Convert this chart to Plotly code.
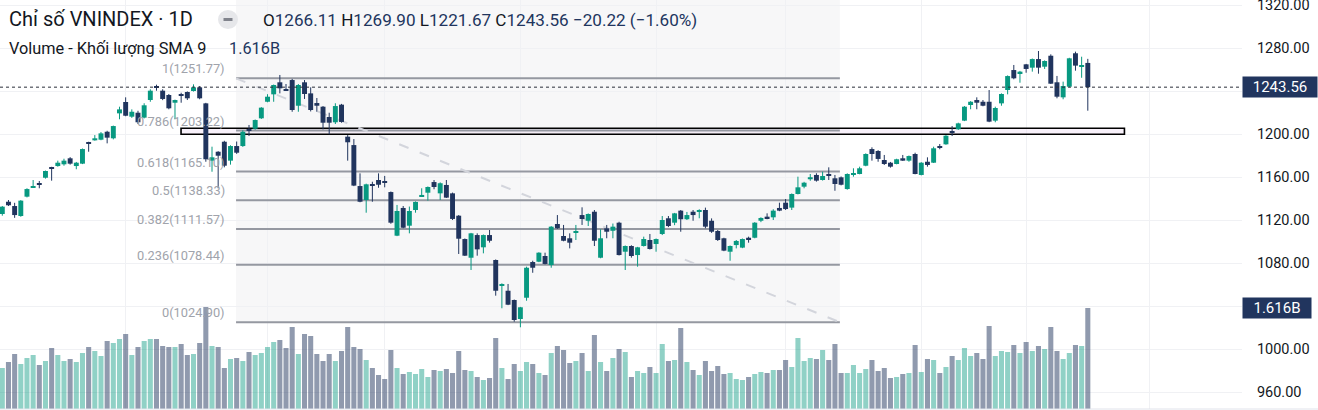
import plotly.graph_objects as go

# ---------------- data ----------------
opens = [1125.6, 1137.0, 1133.0, 1123.7, 1141.7, 1150.4, 1154.0, 1159.3, 1169.0, 1170.2,
         1171.8, 1177.4, 1170.2, 1172.4, 1191.3, 1194.1, 1194.7, 1202.1, 1196.0, 1219.2,
         1229.8, 1216.1, 1219.8, 1215.2, 1231.6, 1243.7, 1240.3, 1236.3, 1229.1, 1237.2,
         1239.1, 1240.0, 1243.4, 1228.5, 1175.2, 1183.5, 1192.8, 1175.2, 1188.8, 1188.8,
         1204.3, 1204.9, 1214.6, 1230.0, 1236.9, 1248.1, 1241.8, 1250.2, 1226.3, 1248.1,
         1237.8, 1228.8, 1225.4, 1215.8, 1210.9, 1227.3, 1197.5, 1189.7, 1151.6, 1138.6,
         1153.5, 1157.2, 1155.3, 1146.0, 1105.4, 1131.2, 1114.7, 1129.3, 1142.3, 1145.4,
         1155.3, 1144.8, 1152.6, 1144.8, 1124.0, 1102.3, 1084.9, 1106.0, 1094.6, 1106.0,
         1082.8, 1058.6, 1054.2, 1045.6, 1027.9, 1047.7, 1080.9, 1081.2, 1086.5, 1078.1,
         1116.3, 1105.1, 1103.0, 1108.8, 1124.6, 1119.3, 1127.7, 1084.9, 1112.3, 1110.0,
         1117.5, 1090.5, 1095.8, 1087.4, 1095.8, 1101.4, 1097.7, 1107.0, 1121.6, 1117.5,
         1128.7, 1120.7, 1127.7, 1127.5, 1129.3, 1119.3, 1109.8, 1103.0, 1090.5, 1096.7,
         1094.3, 1103.5, 1103.5, 1119.3, 1123.1, 1122.5, 1131.2, 1136.1, 1131.5, 1144.2,
         1151.0, 1157.9, 1161.9, 1157.2, 1162.1, 1158.8, 1159.7, 1148.8, 1161.9, 1162.8,
         1170.5, 1186.0, 1184.2, 1175.8, 1173.3, 1172.1, 1177.4, 1175.2, 1181.4, 1161.9,
         1174.2, 1173.3, 1188.8, 1190.4, 1202.7, 1204.4, 1212.4, 1227.0, 1231.6, 1230.0,
         1230.0, 1212.4, 1228.5, 1240.9, 1259.5, 1256.5, 1264.8, 1261.7, 1269.7, 1262.6,
         1272.8, 1248.1, 1234.1, 1244.0, 1275.1, 1263.0, 1266.11]
highs = [1133.0, 1138.6, 1136.0, 1138.5, 1149.5, 1157.2, 1156.3, 1166.0, 1169.5, 1175.2,
         1177.0, 1178.5, 1174.0, 1186.5, 1192.8, 1199.0, 1201.8, 1203.0, 1207.8, 1225.4,
         1234.1, 1222.9, 1221.6, 1228.6, 1241.6, 1245.9, 1241.6, 1237.2, 1232.0, 1238.4,
         1239.6, 1246.2, 1244.6, 1229.0, 1188.2, 1184.0, 1193.7, 1189.5, 1193.0, 1203.5,
         1208.4, 1213.5, 1225.0, 1237.0, 1246.0, 1254.9, 1246.5, 1251.2, 1246.5, 1250.2,
         1243.4, 1233.5, 1226.0, 1219.8, 1228.6, 1228.0, 1199.0, 1195.3, 1163.4, 1153.8,
         1155.6, 1163.4, 1161.0, 1146.5, 1134.0, 1133.0, 1132.5, 1137.3, 1149.5, 1151.2,
         1157.2, 1155.0, 1157.2, 1145.5, 1124.6, 1102.8, 1108.0, 1107.6, 1106.5, 1110.7,
         1083.3, 1061.1, 1060.5, 1046.0, 1039.2, 1076.6, 1082.1, 1090.0, 1089.6, 1114.3,
         1124.6, 1115.4, 1107.6, 1115.4, 1131.8, 1126.1, 1129.3, 1111.3, 1115.4, 1116.7,
         1118.4, 1096.3, 1096.5, 1095.0, 1104.5, 1107.0, 1102.8, 1123.7, 1123.7, 1126.6,
         1129.3, 1127.5, 1129.3, 1130.0, 1131.5, 1121.5, 1110.7, 1103.5, 1096.3, 1101.4,
         1102.8, 1104.5, 1118.0, 1122.5, 1126.2, 1130.0, 1136.1, 1139.5, 1144.7, 1160.3,
         1155.5, 1162.8, 1163.5, 1165.0, 1169.0, 1161.9, 1160.5, 1163.4, 1168.1, 1169.6,
         1182.0, 1187.6, 1185.0, 1180.5, 1174.0, 1177.0, 1180.5, 1180.0, 1182.6, 1173.8,
         1178.3, 1188.2, 1190.7, 1199.0, 1207.4, 1210.5, 1226.0, 1230.6, 1234.1, 1231.6,
         1240.9, 1225.4, 1237.8, 1254.5, 1264.2, 1258.7, 1265.2, 1270.2, 1277.2, 1268.5,
         1274.1, 1254.0, 1248.7, 1270.9, 1276.6, 1271.9, 1269.90]
lows = [1124.0, 1133.0, 1122.0, 1123.0, 1141.0, 1150.0, 1149.5, 1158.5, 1156.6, 1169.6,
        1170.5, 1171.5, 1167.2, 1172.0, 1183.5, 1193.8, 1194.2, 1191.3, 1195.0, 1213.7,
        1216.5, 1215.0, 1209.3, 1214.5, 1230.0, 1240.3, 1231.5, 1223.0, 1213.7, 1229.1,
        1231.6, 1239.5, 1232.3, 1174.2, 1164.9, 1149.5, 1169.0, 1171.5, 1181.5, 1188.0,
        1198.1, 1204.0, 1214.0, 1229.5, 1230.0, 1237.8, 1240.0, 1220.7, 1220.7, 1232.6,
        1221.0, 1220.7, 1204.3, 1199.7, 1209.3, 1210.5, 1175.2, 1151.5, 1136.5, 1126.8,
        1137.0, 1150.0, 1150.4, 1116.5, 1105.0, 1112.3, 1107.6, 1126.8, 1141.7, 1138.0,
        1148.6, 1138.6, 1140.5, 1120.0, 1088.4, 1086.5, 1073.5, 1086.8, 1089.0, 1099.0,
        1049.6, 1037.9, 1040.8, 1025.4, 1020.2, 1044.9, 1070.9, 1080.8, 1078.7, 1075.6,
        1111.8, 1100.2, 1093.6, 1101.4, 1115.4, 1114.4, 1095.8, 1084.4, 1103.0, 1103.0,
        1087.0, 1073.5, 1085.0, 1076.6, 1095.3, 1092.5, 1090.5, 1106.0, 1113.4, 1115.2,
        1109.1, 1120.0, 1119.3, 1121.6, 1112.3, 1108.0, 1100.5, 1091.0, 1082.1, 1093.6,
        1093.8, 1098.9, 1103.0, 1118.0, 1120.7, 1120.0, 1128.2, 1129.3, 1129.3, 1143.8,
        1149.5, 1156.5, 1155.7, 1156.7, 1157.2, 1147.2, 1152.2, 1148.2, 1160.3, 1162.5,
        1170.0, 1175.2, 1174.2, 1171.2, 1168.7, 1171.8, 1175.0, 1174.2, 1162.5, 1161.5,
        1169.6, 1173.0, 1185.8, 1190.0, 1198.1, 1203.8, 1212.0, 1223.0, 1223.0, 1225.8,
        1211.0, 1210.9, 1226.3, 1236.9, 1250.9, 1247.7, 1257.0, 1258.0, 1256.1, 1260.5,
        1246.5, 1233.2, 1232.3, 1243.5, 1258.9, 1252.3, 1221.67]
closes = [1132.4, 1133.7, 1124.6, 1138.0, 1148.8, 1151.6, 1153.0, 1165.6, 1167.7, 1173.3,
          1175.2, 1172.4, 1173.3, 1186.0, 1190.7, 1196.0, 1200.6, 1196.6, 1207.4, 1222.9,
          1217.0, 1220.7, 1210.9, 1226.7, 1240.3, 1242.8, 1232.6, 1223.9, 1231.6, 1236.0,
          1233.2, 1243.4, 1233.2, 1176.5, 1178.3, 1179.8, 1170.5, 1188.8, 1182.6, 1202.1,
          1203.0, 1213.0, 1224.5, 1234.7, 1245.6, 1242.5, 1240.6, 1222.3, 1245.6, 1237.2,
          1222.3, 1226.3, 1210.5, 1210.5, 1226.0, 1211.2, 1192.3, 1152.0, 1137.0, 1153.2,
          1152.0, 1152.8, 1154.7, 1117.5, 1128.4, 1112.8, 1128.4, 1136.8, 1143.2, 1150.7,
          1150.7, 1154.2, 1140.8, 1121.0, 1102.6, 1086.8, 1107.6, 1092.7, 1106.0, 1100.7,
          1054.2, 1060.5, 1041.2, 1027.0, 1038.8, 1075.6, 1075.6, 1089.6, 1079.1, 1113.8,
          1112.3, 1100.7, 1098.9, 1109.8, 1120.9, 1125.6, 1100.7, 1103.0, 1109.1, 1113.8,
          1087.4, 1095.8, 1086.5, 1094.6, 1102.3, 1093.0, 1102.3, 1120.0, 1114.4, 1126.2,
          1120.7, 1124.6, 1124.6, 1128.4, 1113.8, 1109.1, 1101.4, 1091.5, 1095.8, 1100.5,
          1102.3, 1102.3, 1117.5, 1121.9, 1121.6, 1128.7, 1128.7, 1130.2, 1144.2, 1150.4,
          1154.7, 1159.8, 1156.6, 1160.9, 1161.2, 1153.5, 1152.8, 1162.8, 1162.8, 1168.1,
          1181.4, 1181.4, 1176.8, 1172.1, 1169.6, 1176.5, 1175.2, 1179.5, 1162.8, 1173.3,
          1171.2, 1186.7, 1187.3, 1198.4, 1201.6, 1209.9, 1225.4, 1230.0, 1229.1, 1226.3,
          1211.5, 1224.2, 1237.2, 1253.9, 1251.8, 1258.0, 1260.5, 1269.7, 1261.7, 1267.9,
          1246.8, 1234.7, 1244.6, 1270.4, 1263.6, 1263.6, 1243.56]
# volume in billions of shares
volumes = [0.656, 0.752, 0.880, 0.720, 0.816, 0.864, 0.704, 0.768, 0.976, 0.864,
           0.768, 0.800, 0.752, 0.896, 0.992, 0.928, 0.848, 1.088, 1.056, 1.120,
           1.200, 0.864, 0.992, 1.088, 1.120, 1.120, 1.008, 0.992, 0.992, 1.040,
           0.864, 0.880, 1.056, 1.632, 1.008, 0.992, 0.656, 0.800, 0.816, 0.768,
           0.912, 0.864, 0.896, 0.992, 1.072, 1.104, 0.976, 1.312, 0.880, 1.200,
           1.168, 0.880, 0.768, 0.880, 0.768, 0.928, 1.312, 0.992, 0.960, 0.784,
           0.656, 0.544, 0.480, 0.944, 0.656, 0.560, 0.592, 0.560, 0.640, 0.512,
           0.624, 0.608, 0.640, 0.576, 0.928, 0.624, 0.608, 0.512, 0.464, 0.496,
           1.136, 0.656, 0.480, 0.720, 0.608, 0.752, 0.720, 0.576, 0.544, 0.896,
           1.008, 0.944, 0.736, 0.768, 0.896, 0.608, 1.184, 0.752, 0.608, 0.816,
           0.960, 0.912, 0.512, 0.608, 0.576, 0.672, 0.576, 1.040, 0.768, 0.784,
           1.296, 0.752, 0.624, 0.544, 0.768, 0.608, 0.688, 0.560, 0.576, 0.480,
           0.464, 0.512, 0.560, 0.592, 0.576, 0.624, 0.624, 0.784, 0.672, 1.136,
           0.768, 0.816, 0.800, 0.944, 0.784, 1.040, 0.576, 0.576, 0.704, 0.576,
           0.640, 0.784, 0.608, 0.656, 0.496, 0.512, 0.560, 0.576, 1.024, 0.592,
           0.800, 0.784, 0.576, 0.672, 0.848, 0.784, 0.976, 0.848, 0.896, 0.800,
           1.328, 0.848, 0.928, 0.912, 1.024, 0.896, 1.072, 0.928, 1.008, 0.960,
           1.312, 0.928, 0.800, 0.896, 1.024, 1.008, 1.616]

fib_ratios = ["1", "0.786", "0.618", "0.5", "0.382", "0.236", "0"]
fib_prices = [1251.77, 1203.22, 1165.10, 1138.33, 1111.57, 1078.44, 1024.90]
price_ticks = [960, 1000, 1040, 1080, 1120, 1160, 1200, 1240, 1280, 1320]
hidden_tick_labels = [1040, 1240]   # covered by the price / volume badges
month_starts = [20, 43, 62, 84, 106, 127, 149, 166, 186]
last_open, last_high, last_low, last_close = 1266.11, 1269.90, 1221.67, 1243.56
change, change_pct = -20.22, -1.60
last_volume_label = "1.616B"

# ---------------- styling ----------------
UP = "#089981"
DOWN = "#21355e"
UP_VOL = "rgba(8,153,129,0.45)"
DOWN_VOL = "rgba(33,53,94,0.5)"
TEXT = "#131722"
GRID = "#f0f1f4"
FONT = "Roboto, 'Open Sans', sans-serif"

W, H = 1318, 410
PLOT_W = 1242
PLOT_H = 409
X_RANGE = [-0.373, 201.0]
Y_RANGE = [944.19, 1324.65]

n = len(closes)
idx = list(range(n))
is_up = [c >= o for o, c in zip(opens, closes)]

fig = go.Figure()

# volume (overlay axis)
fig.add_trace(go.Bar(
    x=idx, y=volumes, yaxis="y2", width=0.82,
    marker=dict(color=[UP_VOL if u else DOWN_VOL for u in is_up], line_width=0),
    hoverinfo="skip", showlegend=False))

# wicks
for flag, col in ((True, UP), (False, DOWN)):
    wx, wy = [], []
    for i in idx:
        if is_up[i] == flag:
            wx += [i, i, None]
            wy += [lows[i], highs[i], None]
    fig.add_trace(go.Scatter(x=wx, y=wy, mode="lines", line=dict(color=col, width=1),
                             hoverinfo="skip", showlegend=False))

# bodies
bases = [min(o, c) for o, c in zip(opens, closes)]
heights = [max(abs(c - o), 1.0) for o, c in zip(opens, closes)]
fig.add_trace(go.Bar(
    x=idx, y=heights, base=bases, width=0.8,
    marker=dict(color=[UP if u else DOWN for u in is_up], line_width=0),
    hoverinfo="skip", showlegend=False))

shapes = []
fib_x0, fib_x1 = 37.9, 135.8
# fib background
shapes.append(dict(type="rect", xref="x", yref="y", x0=fib_x0, x1=fib_x1,
                   y0=fib_prices[-1], y1=Y_RANGE[1], fillcolor="#f7f7f8",
                   line_width=0, layer="below"))
# white backdrop behind the volume legend row
shapes.append(dict(type="rect", xref="paper", yref="paper",
                   x0=0, x1=287 / PLOT_W, y0=1 - 62 / PLOT_H, y1=1 - 37 / PLOT_H,
                   fillcolor="#ffffff", line_width=0, layer="below"))
# horizontal zone rectangle
shapes.append(dict(type="rect", xref="x", yref="y", x0=28.98, x1=181.94,
                   y0=1199.7, y1=1205.3, fillcolor="rgba(236,215,240,0.35)",
                   line=dict(color="#000000", width=1.6), layer="between"))
# fib level lines
for p in fib_prices:
    shapes.append(dict(type="line", xref="x", yref="y", x0=fib_x0, x1=fib_x1, y0=p, y1=p,
                       line=dict(color="#9598a1", width=2), layer="between"))
# fib trend line (dashed)
shapes.append(dict(type="line", xref="x", yref="y", x0=fib_x0, x1=fib_x1,
                   y0=fib_prices[0], y1=fib_prices[-1],
                   line=dict(color="#d3d5dc", width=2, dash="10px,12px"), layer="between"))
# last price dotted line
shapes.append(dict(type="line", xref="paper", yref="y", x0=0, x1=1, y0=last_close, y1=last_close,
                   line=dict(color="#2a2e39", width=1, dash="dot"), layer="above"))
# bottom border
shapes.append(dict(type="line", xref="paper", yref="paper", x0=0, x1=W / PLOT_W, y0=0, y1=0,
                   line=dict(color="#e0e3eb", width=1), layer="above"))
# legend icon (circle with minus)
shapes.append(dict(type="circle", xref="paper", yref="paper",
                   x0=218 / PLOT_W, x1=238 / PLOT_W, y0=1 - 29 / PLOT_H, y1=1 - 10 / PLOT_H,
                   fillcolor="#e6e7ea", line_width=0, layer="above"))
shapes.append(dict(type="rect", xref="paper", yref="paper",
                   x0=223.5 / PLOT_W, x1=232.5 / PLOT_W, y0=1 - 21 / PLOT_H, y1=1 - 18 / PLOT_H,
                   fillcolor="#80838c", line_width=0, layer="above"))

annotations = []
def px_ann(text, x, y, size, color, xanchor="left", **kw):
    annotations.append(dict(text=text, xref="paper", yref="paper", x=x / PLOT_W, y=1 - y / PLOT_H,
                            xanchor=xanchor, yanchor="middle", showarrow=False,
                            font=dict(family=FONT, size=size, color=color), **kw))

px_ann("Chỉ số VNINDEX · 1D", 7, 19, 20, TEXT)
def num(v):
    return f"<span style='color:{DOWN}'>{v}</span>"
ohlc_text = (f"O{num(f'{last_open:.2f}')} H{num(f'{last_high:.2f}')} "
             f"L{num(f'{last_low:.2f}')} C{num(f'{last_close:.2f}')} "
             + num(f"{change:.2f} ({change_pct:.2f}%)".replace("-", "−")))
px_ann(ohlc_text, 261, 20, 17.1, TEXT)
px_ann("Volume - Khối lượng SMA 9", 7, 49, 16.3, TEXT)
px_ann(last_volume_label, 227, 49, 16.3, DOWN)

# fib labels
for r, p in zip(fib_ratios, fib_prices):
    annotations.append(dict(text=f"{r}({p:.2f})", xref="x", yref="y", x=36.4, y=p,
                            xanchor="right", yanchor="middle", yshift=9.5, showarrow=False,
                            font=dict(family=FONT, size=12.8, color="#a0a3ab")))

# price badges on the axis
vol_range_top = 6.544
for text, yv, yref, w in ((f"{last_close:.2f}", last_close, "y", 74),
                          (last_volume_label, volumes[-1], "y2", 68)):
    annotations.append(dict(text=text, xref="paper", yref=yref, x=1.0, y=yv,
                            xanchor="left", yanchor="middle", showarrow=False,
                            width=w, height=20, bgcolor=DOWN, borderpad=0, align="center",
                            font=dict(family=FONT, size=15, color="#ffffff")))

tick_text = ["" if v in hidden_tick_labels else f"{v:.2f}" for v in price_ticks]

fig.update_layout(
    width=W, height=H, autosize=False,
    margin=dict(l=0, r=W - PLOT_W, t=0, b=1, pad=0, autoexpand=False),
    paper_bgcolor="#ffffff", plot_bgcolor="#ffffff",
    barmode="overlay", showlegend=False, hovermode=False,
    shapes=shapes, annotations=annotations,
    xaxis=dict(range=X_RANGE, tickvals=month_starts, showticklabels=False, ticks="",
               showgrid=True, gridcolor=GRID, gridwidth=1, zeroline=False, showline=False,
               fixedrange=True, automargin=False),
    yaxis=dict(range=Y_RANGE, side="right", tickvals=price_ticks,
               ticktext=tick_text, ticks="outside", ticklen=11,
               tickcolor="rgba(0,0,0,0)", tickfont=dict(family=FONT, size=14.5, color=TEXT),
               ticklabeloverflow="allow", automargin=False,
               showgrid=True, gridcolor=GRID, gridwidth=1, zeroline=False, showline=False,
               fixedrange=True),
    yaxis2=dict(range=[0, vol_range_top], overlaying="y", visible=False, fixedrange=True),
)

fig.write_html("out.html", config={"displayModeBar": False})
